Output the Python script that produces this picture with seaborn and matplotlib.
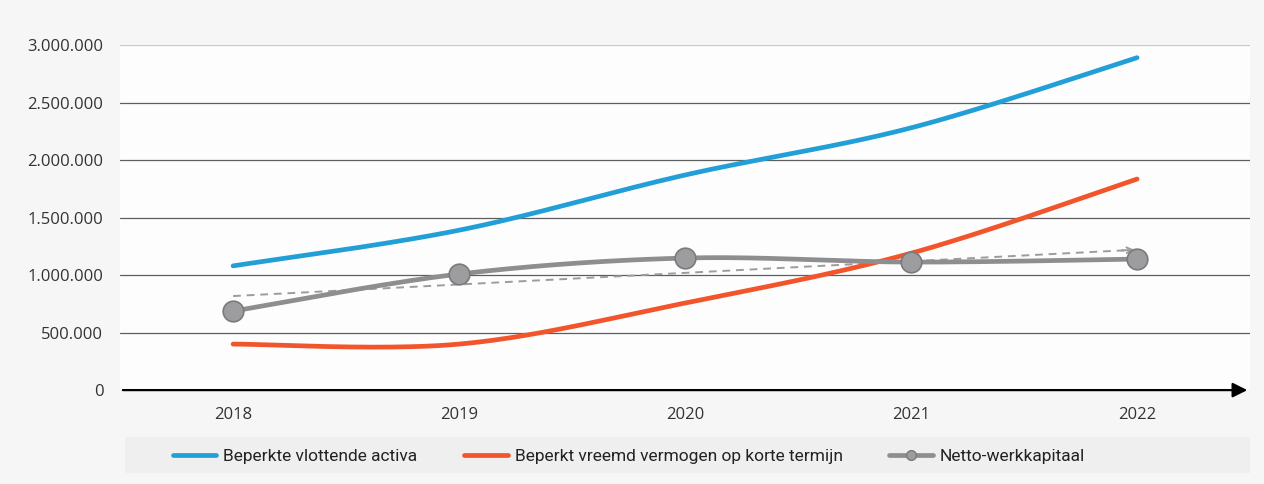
"""Netto-werkkapitaal chart."""

import matplotlib
matplotlib.use('Agg')
import matplotlib.pyplot as plt
import numpy as np
import pandas as pd
import seaborn as sns
from matplotlib.lines import Line2D
from matplotlib.patches import Rectangle
from matplotlib.ticker import FuncFormatter, FixedLocator

years = ['2018', '2019', '2020', '2021', '2022']
vlottende_activa = [1080000, 1390000, 1870000, 2280000, 2890000]
vreemd_vermogen = [400000, 400000, 757000, 1190000, 1835000]
werkkapitaal = [687000, 1009000, 1148000, 1113000, 1139000]

lbl_blue = 'Beperkte vlottende activa'
lbl_red = 'Beperkt vreemd vermogen op korte termijn'
lbl_grey = 'Netto-werkkapitaal'

c_blue = '#239fd8'
c_red = '#f2552c'
c_grey = '#8e8e90'


def smooth(y, n=40) :
  # catmull-rom curve through the points (excel 'smoothed line')
  y = np.asarray(y , dtype=float)
  x = np.arange(len(y) , dtype=float)
  px = np.concatenate([[x[0]] , x , [x[-1]]])
  py = np.concatenate([[y[0]] , y , [y[-1]]])
  xs , ys = [] , []
  for i in range(1 , len(px) - 2) :
    t = np.linspace(0 , 1 , n , endpoint=False)
    p0 , p1 , p2 , p3 = px[i - 1] , px[i] , px[i + 1] , px[i + 2]
    q0 , q1 , q2 , q3 = py[i - 1] , py[i] , py[i + 1] , py[i + 2]
    b0 = -0.5 * t ** 3 + t ** 2 - 0.5 * t
    b1 = 1.5 * t ** 3 - 2.5 * t ** 2 + 1
    b2 = -1.5 * t ** 3 + 2 * t ** 2 + 0.5 * t
    b3 = 0.5 * t ** 3 - 0.5 * t ** 2
    xs.append(b0 * p0 + b1 * p1 + b2 * p2 + b3 * p3)
    ys.append(b0 * q0 + b1 * q1 + b2 * q2 + b3 * q3)
  xs.append([x[-1]])
  ys.append([y[-1]])
  return np.concatenate(xs) , np.concatenate(ys)


##
sns.set_style('white')
plt.rcParams['font.family'] = ['Open Sans' , 'DejaVu Sans']

fig = plt.figure(figsize=(12.64 , 4.84) , dpi=100 , facecolor='#f6f6f7')
ax = fig.add_axes([0.095 , 0.194 , 0.894 , 0.713])
ax.set_facecolor('#fdfdfd')

pos = np.arange(len(years))

##
# grid
for g in range(500000 , 3000001 , 500000) :
  ax.axhline(g , color='#5e5e5e' if g < 3000000 else '#c8c8c8' , lw=0.9 , zorder=1)

##
# trend line of netto-werkkapitaal
k , b = np.polyfit(pos , werkkapitaal , 1)
tx = np.array([pos[0] , pos[-1]])
sns.lineplot(x=tx , y=k * tx + b , ax=ax , color='#9c9c9c' , lw=1.4 ,
             linestyle=(0 , (4 , 3)) , zorder=2)
ax.annotate('' , xy=(pos[-1] , k * pos[-1] + b) , xytext=(pos[-1] - 0.08 , k * (pos[-1] - 0.08) + b) ,
            arrowprops=dict(arrowstyle='->' , color='#9c9c9c' , lw=1.4) , zorder=2)

##
sx , sy = smooth(vlottende_activa)
sns.lineplot(x=sx , y=sy , ax=ax , color=c_blue , lw=3.4 , sort=False , zorder=3)
sx , sy = smooth(vreemd_vermogen)
sns.lineplot(x=sx , y=sy , ax=ax , color=c_red , lw=3.4 , sort=False , zorder=3)
sx , sy = smooth(werkkapitaal)
sns.lineplot(x=sx , y=sy , ax=ax , color=c_grey , lw=3.4 , sort=False , zorder=4)
sns.scatterplot(x=pos , y=werkkapitaal , ax=ax , s=220 , color='#9d9d9f' ,
                edgecolor='#7a7a7c' , linewidth=1.2 , zorder=5)

##
ax.set_xlim(-0.5 , len(years) - 0.5)
ax.set_ylim(0 , 3000000)
ax.set_xticks(pos)
ax.set_xticklabels(years , fontsize=12 , color='#333333')
ax.xaxis.set_minor_locator(FixedLocator(np.arange(-0.5 , len(years) - 0.5 , 1)))
ax.tick_params(axis='x' , which='major' , length=0 , pad=12)
ax.tick_params(axis='x' , which='minor' , length=5 , width=1.5 , color='black' , direction='out')
ax.set_yticks(np.arange(0 , 3000001 , 500000))
ax.yaxis.set_major_formatter(FuncFormatter(lambda a , _ : '{:,.0f}'.format(a).replace(',' , '.')))
ax.tick_params(axis='y' , length=0 , labelsize=12 , labelcolor='#333333' , pad=12)
ax.set_xlabel('')
ax.set_ylabel('')

for s in ['top' , 'right' , 'left' , 'bottom'] :
  ax.spines[s].set_visible(False)

# x-axis with arrow
ax.annotate('' , xy=(1.0 , 0) , xytext=(0 , 0) , xycoords='axes fraction' ,
            arrowprops=dict(arrowstyle='-|>' , color='black' , lw=1.6 , mutation_scale=22) ,
            zorder=6 , annotation_clip=False)

##
# legend band
fig.patches.append(Rectangle((125 / 1264 , 11 / 484) , 1125 / 1264 , 36 / 484 ,
                             transform=fig.transFigure , facecolor='#efeff0' ,
                             edgecolor='none' , zorder=0))

handles = [
    Line2D([] , [] , color=c_blue , lw=3.4) ,
    Line2D([] , [] , color=c_red , lw=3.4) ,
    Line2D([] , [] , color=c_grey , lw=3.4 , marker='o' , markersize=7 ,
           markerfacecolor='#9d9d9f' , markeredgecolor='#7a7a7c') ,
    ]
leg = fig.legend(handles , [lbl_blue , lbl_red , lbl_grey] , loc='center' ,
                 bbox_to_anchor=(629 / 1264 , 28 / 484) , ncol=3 , frameon=False ,
                 handlelength=2.5 , handletextpad=0.4 , columnspacing=2.7 ,
                 prop={'family' : ['Roboto' , 'DejaVu Sans'] , 'size' : 12.5})
for t in leg.get_texts() :
  t.set_color('#222222')

##
fig.savefig('out.png' , dpi=100 , facecolor=fig.get_facecolor())
